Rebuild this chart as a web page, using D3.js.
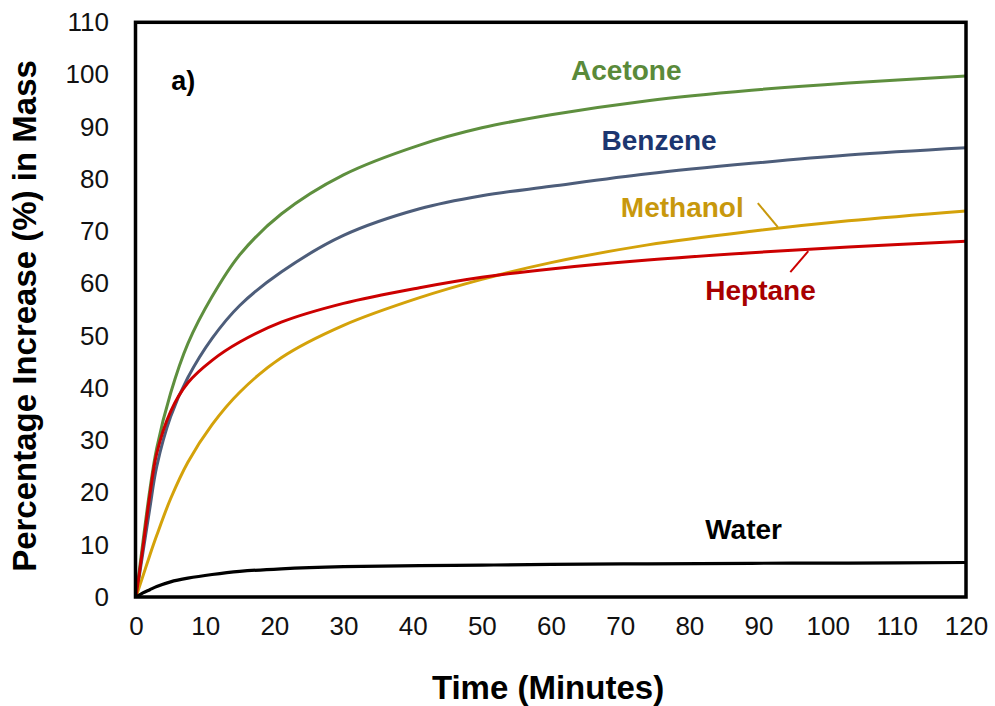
<!DOCTYPE html>
<html>
<head>
<meta charset="utf-8">
<script src="https://cdn.jsdelivr.net/npm/d3@7"></script>
<style>
  html, body { margin: 0; padding: 0; background: #fff; }
  svg { display: block; font-family: "Liberation Sans", Arial, sans-serif; }
</style>
</head>
<body>
<svg id="chart" width="995" height="706"></svg>
<script>
// Sampling times (minutes)
const times = [0, 1, 2, 3, 5, 7.5, 11, 15, 21, 30, 41, 50, 60, 74, 89, 103, 120];

// Mass uptake (%) for each solvent at the sampling times
const acetone  = [0, 10.5, 20.5, 28.5, 39, 48.5, 57.5, 65.5, 73.3, 80.8, 86.5, 89.8, 92.3, 95, 97, 98.4, 99.7];
const benzene  = [0, 8.5, 17, 25, 34.5, 42, 49.5, 55.8, 62.2, 69.2, 74.3, 76.8, 78.6, 81, 83, 84.6, 86];
const heptane  = [0, 9.5, 19.5, 27.5, 35.5, 41, 45.3, 48.8, 52.6, 56.2, 59.2, 61.2, 62.8, 64.5, 65.9, 67, 68.1];
const methanol = [0, 4, 8, 11.8, 18.8, 25.8, 33.0, 39.2, 45.8, 52, 57.3, 60.8, 64, 67.4, 70, 72, 73.9];
const water    = [0, 0.8, 1.4, 2.0, 2.9, 3.6, 4.3, 4.9, 5.4, 5.8, 6.0, 6.1, 6.25, 6.35, 6.45, 6.5, 6.6];

const seriesNames = ["Acetone", "Benzene", "Methanol", "Heptane", "Water"];
const seriesValues = [acetone, benzene, methanol, heptane, water];
const lineColors  = ["#5e8f3e", "#4d5d7a", "#d4a20a", "#cc0000", "#000000"];
const labelColors = ["#5a8a3a", "#1c3670", "#c8980c", "#a80000", "#000000"];
// label anchor (time, value) for each series name
const labelAt = [[62.9, 98.9], [67.3, 85.5], [70.1, 72.8], [82.3, 56.8], [82.3, 11.1]];
// leader lines from label to curve: [t1, v1, t2, v2]
const leaders = [[89.9, 75.4, 92.8, 70.8], [94.6, 62.2, 97.2, 66.2]];
const leaderColors = ["#c8980c", "#cc0000"];

const xTicks = [0, 10, 20, 30, 40, 50, 60, 70, 80, 90, 100, 110, 120];
const yTicks = [0, 10, 20, 30, 40, 50, 60, 70, 80, 90, 100, 110];

const svg = d3.select("#chart");
const x = d3.scaleLinear().domain([0, 120]).range([136, 966]);
const y = d3.scaleLinear().domain([0, 110]).range([597, 22.3]);

// tick labels
const xAxis = svg.append("g")
  .attr("transform", `translate(0,${y(0)})`)
  .call(d3.axisBottom(x).tickValues(xTicks).tickSize(0).tickPadding(20).tickFormat(d3.format("d")));
xAxis.select(".domain").remove();
xAxis.selectAll("text").attr("font-size", 26).attr("fill", "#111")
  .attr("font-family", "'Liberation Sans', Arial, sans-serif");

const yAxis = svg.append("g")
  .attr("transform", `translate(${x(0) - 1},0)`)
  .call(d3.axisLeft(y).tickValues(yTicks).tickSize(0).tickPadding(26).tickFormat(d3.format("d")));
yAxis.select(".domain").remove();
yAxis.selectAll("text").attr("font-size", 26).attr("fill", "#111")
  .attr("font-family", "'Liberation Sans', Arial, sans-serif");

// series curves (centripetal Catmull-Rom keeps the bends smooth)
const line = d3.line()
  .x((d, i) => x(times[i]))
  .y(d => y(d))
  .curve(d3.curveCatmullRom.alpha(0.5));

seriesValues.forEach((vals, k) => {
  svg.append("path")
    .datum(vals)
    .attr("d", line)
    .attr("fill", "none")
    .attr("stroke", lineColors[k])
    .attr("stroke-width", k === 4 ? 3.2 : 3)
    .attr("stroke-linejoin", "round");
});

// plot frame
svg.append("rect")
  .attr("x", x(0) - 0.5).attr("y", y(110))
  .attr("width", x(120) - x(0) + 0.5).attr("height", y(0) - y(110))
  .attr("fill", "none").attr("stroke", "#000").attr("stroke-width", 3.5);

// leader lines
leaders.forEach((l, k) => {
  svg.append("line")
    .attr("x1", x(l[0])).attr("y1", y(l[1]))
    .attr("x2", x(l[2])).attr("y2", y(l[3]))
    .attr("stroke", leaderColors[k]).attr("stroke-width", 2);
});

// series names
seriesNames.forEach((name, k) => {
  svg.append("text")
    .attr("x", x(labelAt[k][0])).attr("y", y(labelAt[k][1]))
    .attr("font-size", 28).attr("font-weight", "bold")
    .attr("fill", labelColors[k])
    .text(name);
});

// panel tag
svg.append("text")
  .attr("x", x(5.1)).attr("y", y(97))
  .attr("font-size", 27).attr("font-weight", "bold").attr("fill", "#000")
  .text("a)");

// axis titles
svg.append("text")
  .attr("x", 548).attr("y", 699)
  .attr("text-anchor", "middle")
  .attr("font-size", 33).attr("font-weight", "bold").attr("fill", "#000")
  .text("Time (Minutes)");

svg.append("text")
  .attr("transform", "translate(36,316) rotate(-90)")
  .attr("text-anchor", "middle")
  .attr("font-size", 33).attr("font-weight", "bold").attr("fill", "#000")
  .text("Percentage Increase (%) in Mass");
</script>
</body>
</html>
